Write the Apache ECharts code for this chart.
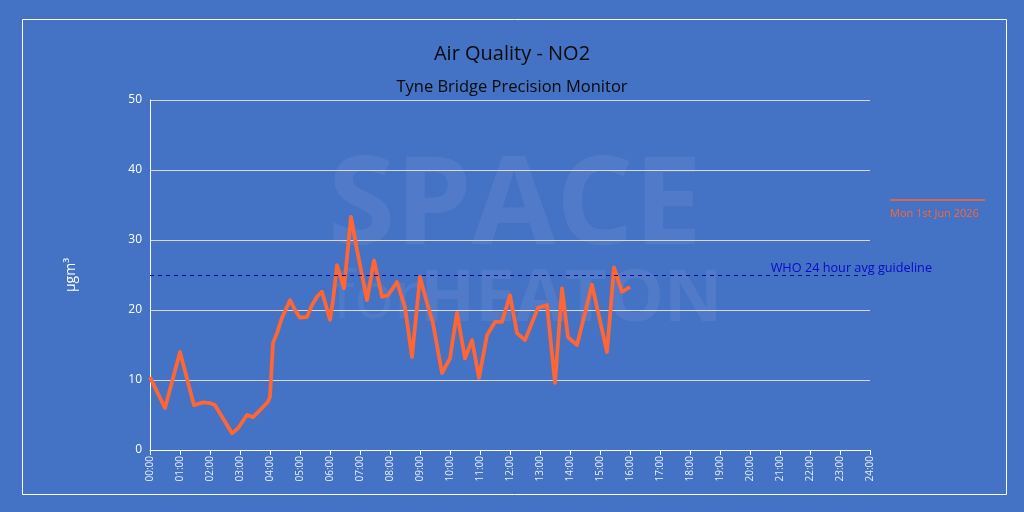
<!DOCTYPE html>
<html><head><meta charset="utf-8">
<script src="https://cdn.jsdelivr.net/npm/echarts@6/dist/echarts.min.js"></script>
<style>html,body{margin:0;padding:0;background:#4472C4}#c{width:1024px;height:512px}</style>
</head><body><div id="c"></div>
<script>
const times = ["00:00","00:30","01:00","01:28","01:46","02:00","02:10","02:44","02:56","03:14","03:26","03:40","03:56","04:00","04:06","04:14","04:24","04:40","04:50","05:00","05:14","05:24","05:34","05:44","05:56","06:00","06:06","06:14","06:20","06:28","06:42","06:54","07:14","07:28","07:44","07:56","08:14","08:30","08:44","09:00","09:14","09:26","09:44","10:00","10:14","10:30","10:44","10:58","11:14","11:30","11:44","12:00","12:14","12:30","12:56","13:14","13:30","13:44","13:56","14:14","14:44","15:14","15:28","15:44","16:00"];
const values = [10.4,6.0,14.0,6.4,6.8,6.7,6.4,2.4,3.1,5.0,4.7,5.7,6.9,7.6,15.3,16.7,18.9,21.4,20.0,18.9,19.0,20.7,21.9,22.6,19.6,18.6,21.4,26.4,25.0,23.1,33.3,28.6,21.4,27.1,21.9,22.1,24.0,20.4,13.3,24.7,21.0,18.1,11.0,13.1,19.6,13.1,15.7,10.3,16.4,18.3,18.3,22.1,16.7,15.7,20.3,20.7,9.6,23.1,16.1,15.0,23.6,14.0,26.1,22.6,23.3];
const seriesName = "Mon 1st Jun 2026";
const guideline = 25;
const guidelineLabel = "WHO 24 hour avg guideline";
const yTicks = [0,10,20,30,40,50];

const toMin = t => { const p = t.split(":"); return (+p[0])*60 + (+p[1]); };
const fmt = m => String(Math.floor(m/60)).padStart(2,"0") + ":" + String(m%60).padStart(2,"0");
const data = times.map((t,i)=>[toMin(t), values[i]]);

const chart = echarts.init(document.getElementById('c'));
const FONT = "Open Sans";
chart.setOption({
  backgroundColor: '#4472C4',
  animation: false,
  textStyle: {fontFamily: FONT},
  title: [
    {text: 'Air Quality - NO2', left: 'center', top: 39, textStyle: {fontFamily: FONT, fontSize: 20, fontWeight: 'normal', color: '#0a0a0a'}},
    {text: 'Tyne Bridge Precision Monitor', left: 'center', top: 74, textStyle: {fontFamily: FONT, fontSize: 16.5, fontWeight: 'normal', color: '#0a0a0a'}}
  ],
  grid: {left: 150, right: 154, top: 100, bottom: 62},
  xAxis: {
    type: 'value', min: 0, max: 1440, interval: 60,
    axisLine: {show: true, lineStyle: {color: '#fff', width: 1}},
    axisTick: {show: true, length: 5, lineStyle: {color: '#fff'}},
    axisLabel: {rotate: 90, color: '#e8ecf8', fontSize: 10, fontFamily: FONT, margin: 6, formatter: v => fmt(v)},
    splitLine: {show: false}
  },
  yAxis: {
    type: 'value', min: yTicks[0], max: yTicks[yTicks.length-1], interval: 10,
    name: 'µgm³', nameLocation: 'middle', nameGap: 72, nameRotate: 90,
    nameTextStyle: {color: '#fff', fontSize: 14, fontFamily: FONT},
    axisLine: {show: true, lineStyle: {color: '#fff', width: 1}},
    axisTick: {show: false},
    axisLabel: {color: '#fff', fontSize: 12, fontFamily: FONT, margin: 8},
    splitLine: {show: true, lineStyle: {color: '#d9d9d9', width: 1}}
  },
  graphic: [
    {type: 'rect', left: 20, top: 17, shape: {width: 984, height: 475}, style: {fill: 'none', stroke: '#fff', lineWidth: 1}, silent: true, z: -1},
    {type: 'text', left: 328, top: 148, style: {text: 'SPACE', fill: 'rgba(255,255,255,0.07)', font: 'bold 122px "Open Sans"'}, silent: true, z: -1},
    {type: 'text', left: 332, top: 266, style: {text: 'for', fill: 'rgba(255,255,255,0.06)', font: '66px "Open Sans"'}, silent: true, z: -1},
    {type: 'text', left: 420, top: 264, style: {text: 'HEATON', fill: 'rgba(255,255,255,0.07)', font: 'bold 72px "Open Sans"'}, silent: true, z: -1},
    {type: 'line', shape: {x1: 890, y1: 200, x2: 985, y2: 200}, style: {stroke: '#FF6633', lineWidth: 1.5}},
    {type: 'text', left: 890, top: 208, style: {text: seriesName, fill: '#FF6633', font: '11px "Open Sans"'}}
  ],
  series: [{
    name: seriesName, type: 'line', data: data, showSymbol: false,
    lineStyle: {color: '#FF6633', width: 3.8, join: 'round'},
    itemStyle: {color: '#FF6633'},
    markLine: {
      silent: true, symbol: 'none',
      lineStyle: {color: '#0a0aa0', type: [4, 4], width: 1},
      label: {show: true, position: 'insideEndTop', formatter: guidelineLabel, color: '#0a0ac8', fontSize: 12.7, fontFamily: FONT, offset: [67, 5]},
      data: [{yAxis: guideline}]
    }
  }]
});
</script></body></html>
